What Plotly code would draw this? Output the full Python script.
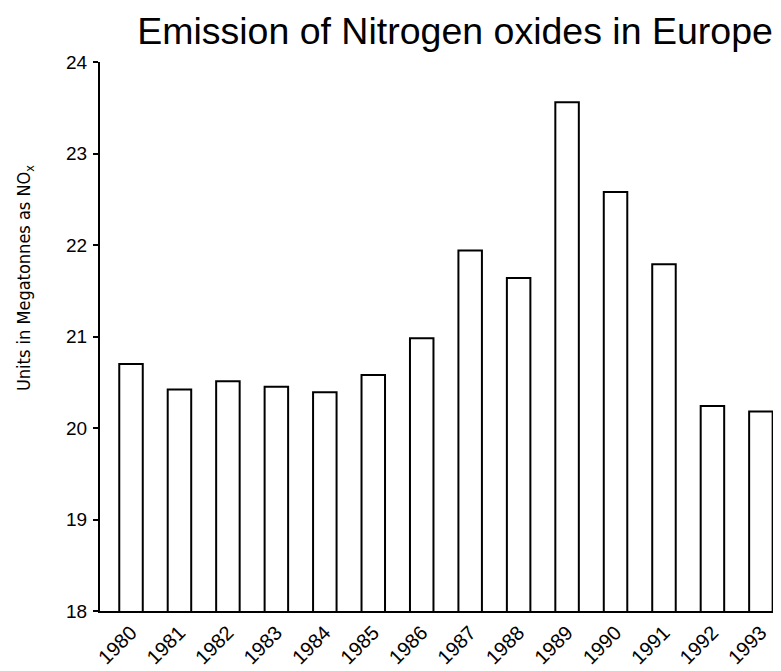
import plotly.graph_objects as go

years = ["1980", "1981", "1982", "1983", "1984", "1985", "1986",
         "1987", "1988", "1989", "1990", "1991", "1992", "1993"]
emissions = [20.70, 20.42, 20.51, 20.45, 20.39, 20.58, 20.98,
             21.94, 21.64, 23.56, 22.58, 21.79, 20.24, 20.18]
y_ticks = [18, 19, 20, 21, 22, 23, 24]

FONT = "Liberation Sans, Arial, sans-serif"
COND = "DejaVu Sans Condensed, Liberation Sans, sans-serif"

# the page body adds an 8px offset; the figure is sized and positioned to compensate
OFF = 8
W, H = 781 - 2 * OFF, 671 - OFF
L, T = 100 - OFF, 62 - OFF
PLOT_BOTTOM = 611 - OFF
PW, PH = W - L, PLOT_BOTTOM - T

fig = go.Figure(
    go.Bar(
        x=years,
        y=emissions,
        marker=dict(color="white", line=dict(color="black", width=2)),
    )
)

fig.update_layout(
    width=W,
    height=H,
    paper_bgcolor="white",
    plot_bgcolor="white",
    margin=dict(l=L, r=0, t=T, b=H - PLOT_BOTTOM),
    bargap=0.515,
    showlegend=False,
    font=dict(family=FONT, color="black"),
    title=dict(
        text="Emission of Nitrogen oxides in Europe",
        font=dict(family=FONT, size=37.5, color="black"),
        xref="container", yref="container",
        x=(455 - OFF) / W, xanchor="center",
        y=1 - (31 - OFF) / H, yanchor="middle",
    ),
    annotations=[
        dict(
            text="Units in Megatonnes as NO<sub>x</sub>",
            xref="paper", yref="paper",
            x=(25 - OFF - L) / PW, y=1 - (278 - OFF - T) / PH,
            xanchor="center", yanchor="middle",
            textangle=-90, showarrow=False,
            font=dict(family=COND, size=18, color="black"),
        )
    ],
)

fig.update_xaxes(
    type="category",
    range=[-0.64, 13.25],
    showline=True, linecolor="black", linewidth=2,
    ticks="", showgrid=False, zeroline=False,
    tickangle=-45,
    tickfont=dict(family=FONT, size=20, color="black"),
    automargin=False,
)

fig.update_yaxes(
    range=[18, 24],
    tickvals=y_ticks,
    showline=True, linecolor="black", linewidth=2,
    ticks="outside", ticklen=5, tickwidth=2, tickcolor="black",
    showgrid=False, zeroline=False,
    tickfont=dict(family=FONT, size=19, color="black"),
    ticklabelstandoff=2,
    automargin=False,
)

fig.write_html("out.html")
